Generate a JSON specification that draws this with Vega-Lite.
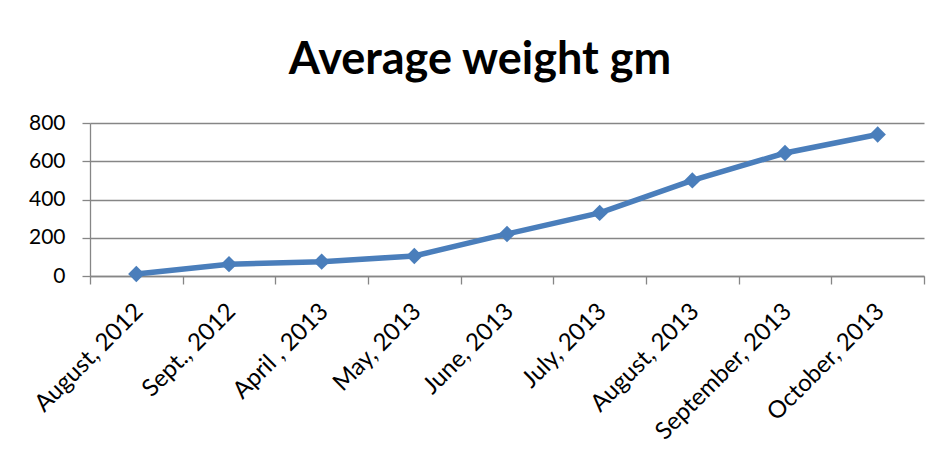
{
  "$schema": "https://vega.github.io/schema/vega-lite/v6.json",
  "width": 834,
  "height": 153,
  "autosize": {"type": "none"},
  "padding": {"left": 90, "top": 123, "right": 16, "bottom": 187},
  "background": "white",
  "title": {
    "text": "Average weight gm",
    "font": "Lato",
    "fontSize": 45,
    "fontWeight": "bold",
    "color": "black",
    "anchor": "middle",
    "frame": "group",
    "baseline": "alphabetic",
    "offset": 44,
    "dx": -27,
    "dy": 51
  },
  "data": {
    "values": [
      {"month": "August, 2012", "weight": 10},
      {"month": "Sept., 2012", "weight": 62},
      {"month": "April , 2013", "weight": 75},
      {"month": "May, 2013", "weight": 105},
      {"month": "June, 2013", "weight": 220},
      {"month": "July, 2013", "weight": 330},
      {"month": "August,  2013", "weight": 500},
      {"month": "September, 2013", "weight": 643},
      {"month": "October, 2013", "weight": 740}
    ]
  },
  "encoding": {
    "x": {
      "field": "month",
      "type": "nominal",
      "sort": null,
      "scale": {"type": "band", "paddingInner": 0, "paddingOuter": 0},
      "axis": {
        "title": null,
        "labelAngle": -45,
        "tickBand": "extent",
        "grid": false,
        "domainColor": "#868686",
        "tickColor": "#868686",
        "domainWidth": 1.3,
        "tickWidth": 1.3,
        "tickSize": 8,
        "labelFont": "Lato",
        "labelFontSize": 24,
        "labelColor": "black",
        "labelPadding": 15,
        "labelOffset": -6,
        "labelLimit": 0
      }
    },
    "y": {
      "field": "weight",
      "type": "quantitative",
      "scale": {"domain": [0, 800], "nice": false},
      "axis": {
        "title": null,
        "values": [0, 200, 400, 600, 800],
        "grid": true,
        "gridColor": "#868686",
        "gridWidth": 1.3,
        "domainColor": "#868686",
        "domainWidth": 1.3,
        "tickColor": "#868686",
        "tickWidth": 1.3,
        "tickSize": 8,
        "labelFont": "Lato",
        "labelFontSize": 21,
        "labelColor": "black",
        "labelPadding": 17
      }
    }
  },
  "layer": [
    {"mark": {"type": "line", "color": "#4A7EBB", "strokeWidth": 5.5}},
    {"mark": {"type": "point", "shape": "diamond", "filled": true, "color": "#4A7EBB", "size": 270, "opacity": 1}}
  ],
  "config": {"view": {"stroke": null}}
}
